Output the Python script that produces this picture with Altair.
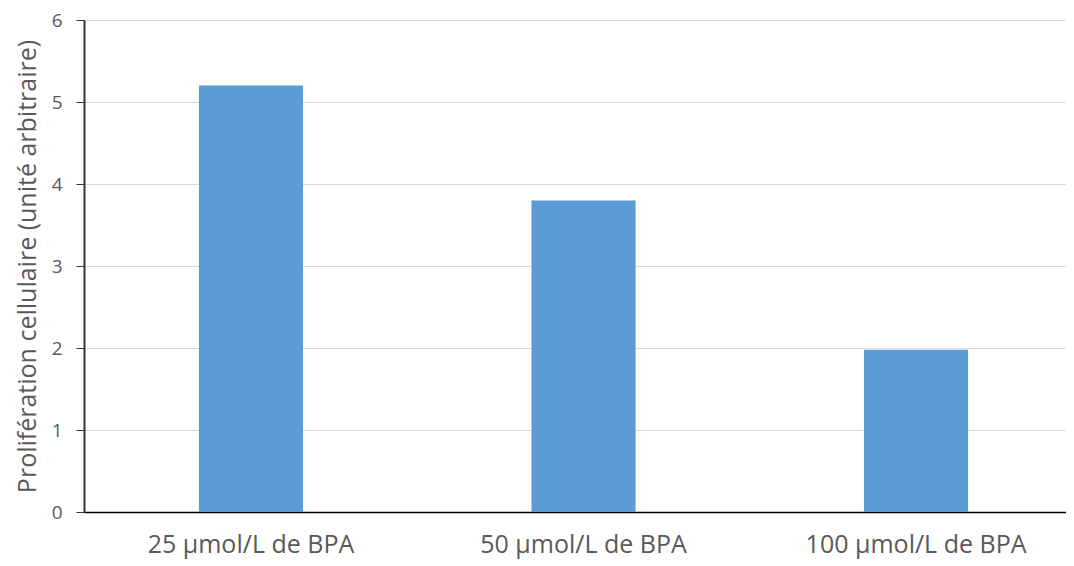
import altair as alt
import pandas as pd

categories = ["25 µmol/L de BPA", "50 µmol/L de BPA", "100 µmol/L de BPA"]
values = [5.2, 3.8, 1.98]

df = pd.DataFrame({"cat": categories, "val": values})

chart = alt.Chart(df).mark_bar(color="#5B9BD5").encode(
    x=alt.X("cat:N", sort=categories, title=None,
            scale=alt.Scale(paddingInner=0.687, paddingOuter=0.32, align=0.54),
            axis=alt.Axis(labelAngle=0, ticks=False, labelFontSize=25, labelColor="#595959",
                          labelFont="Open Sans", labelPadding=20, labelLimit=500,
                          domainColor="#000000", domainWidth=1.5)),
    y=alt.Y("val:Q", title="Prolifération cellulaire (unité arbitraire)",
            scale=alt.Scale(domain=[0, 6]),
            axis=alt.Axis(values=[0, 1, 2, 3, 4, 5, 6], format="d", labelFontSize=19, labelColor="#595959",
                          labelFont="Open Sans", labelPadding=14, tickColor="#333333", tickSize=8,
                          domainColor="#333333", domainWidth=2, gridColor="#D9D9D9",
                          titleFont="Open Sans", titleFontSize=25, titleFontWeight="normal",
                          titleColor="#595959", titlePadding=11)),
).properties(
    width=982, height=492,
    padding={"left": 76, "top": 12, "right": 0, "bottom": 50},
    autosize=alt.AutoSizeParams(type="none"),
).configure_view(stroke=None)

chart.save("out.html", embed_options={"renderer": "svg", "actions": False})
